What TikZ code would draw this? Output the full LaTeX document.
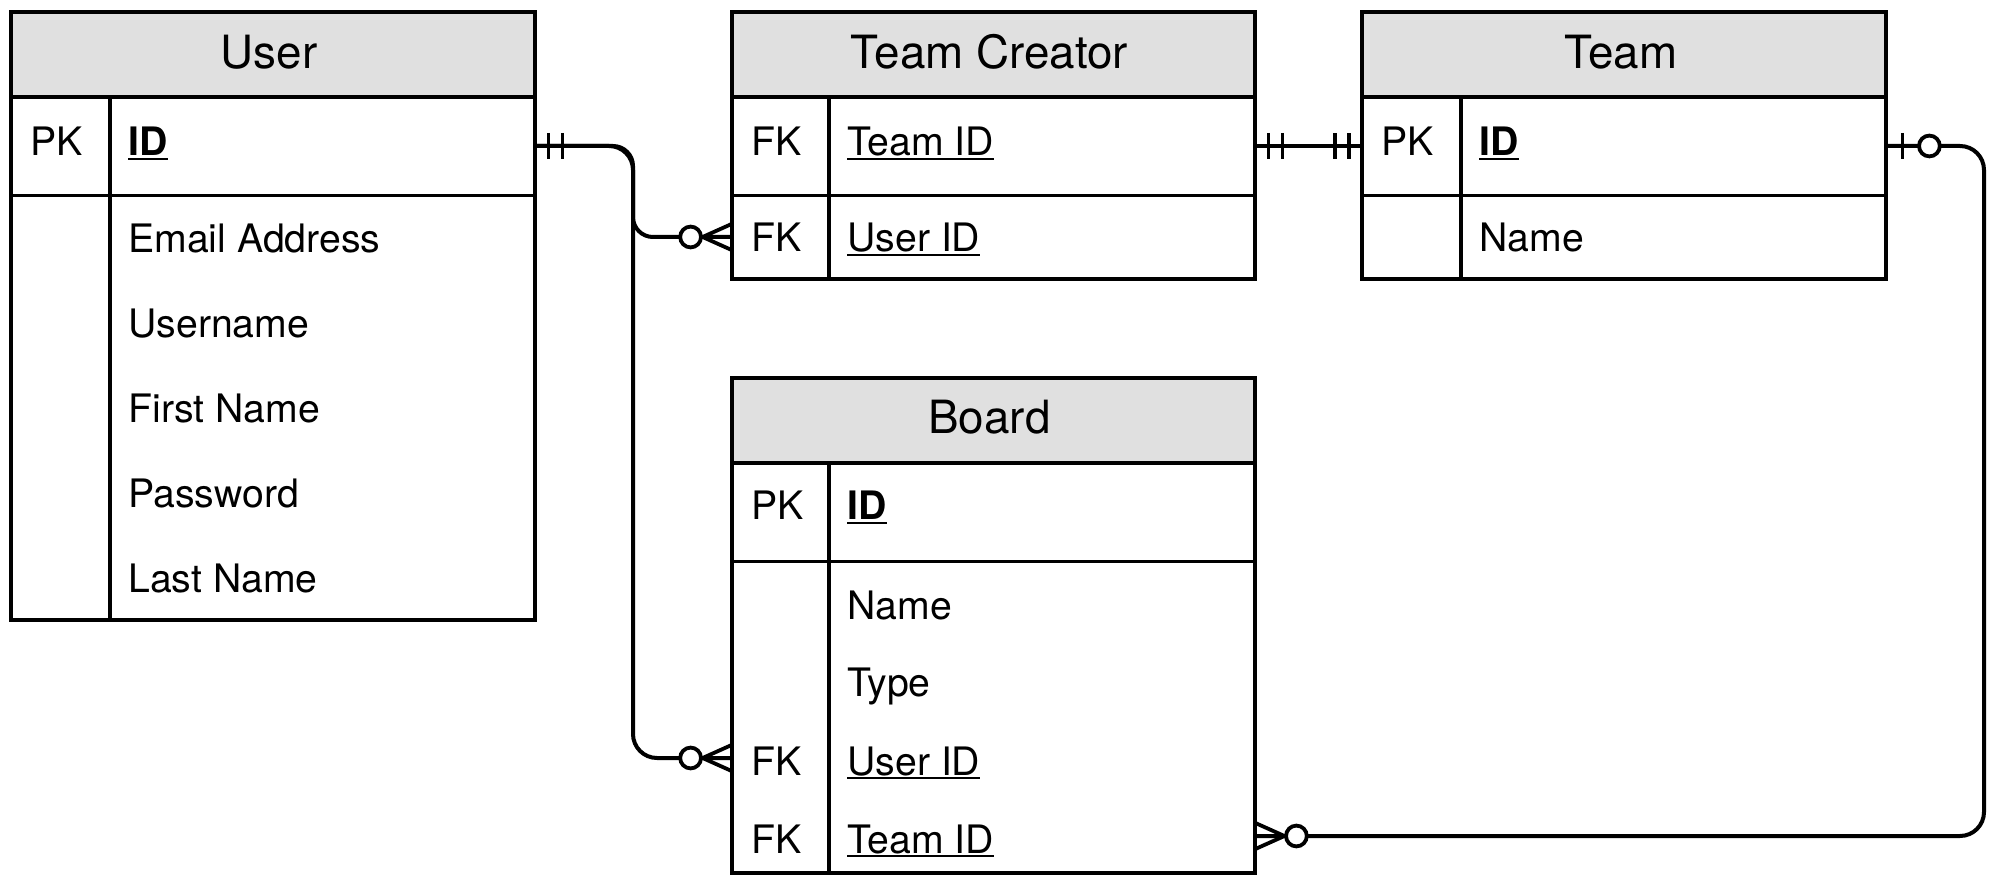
\documentclass[tikz,border=0pt]{standalone}
\usepackage{fontspec}
\setmainfont{TeX Gyre Heros}
\usetikzlibrary{fit}
\definecolor{hdrgray}{RGB}{224,224,224}
\newcommand\ulx[1]{\setbox0\hbox{#1}\rlap{\rule[-2pt]{\wd0}{0.95pt}}\box0}
\begin{document}
\begin{tikzpicture}[x=0.5pt,y=-0.5pt,
  box/.style={draw, line width=2pt, inner sep=0pt},
  head/.style={box, fill=hdrgray},
  row/.style={inner sep=0pt},
  sep/.style={line width=1.8pt},
  ttl/.style={anchor=base, inner sep=0pt, font=\fontsize{22.9pt}{27pt}\selectfont},
  fld/.style={anchor=base west, inner sep=0pt, font=\fontsize{19.6pt}{23pt}\selectfont},
  conn/.style={line width=2pt, rounded corners=12pt},
  mk/.style={line width=1.9pt},
  mandone/.pic={\draw[mk] (13,-13) -- (13,13) (27,-13) -- (27,13);},
  zeromany/.pic={\draw[mk] (0,-13) -- (29,0) -- (0,13); \draw[mk] (0,0) -- (29,0); \draw[mk,fill=white] (41,0) circle[radius=5.2pt];},
  zeroone/.pic={\draw[mk] (16,-13) -- (16,13); \draw[mk,fill=white] (43,0) circle[radius=5.2pt];}
]
\useasboundingbox (0,0) rectangle (1999,887);

% ---------- User ----------
\node[head, fit={(11,12)(535,97)}] (user-head) {};
\node[box, fit={(11,12)(535,620)}] (user) {};
\node[row, fit={(11,97)(535,195)}] (user-r1) {};
\draw[sep] (user-r1.south west) -- (user-r1.south east);
\draw[sep] (110,97) -- (110,620);
\node[ttl] (user-title) at (269,69) {User};
\node[fld] (user-pk) at (30,156) {PK};
\node[fld] (user-id) at (128,156) {\ulx{\textbf{ID}}};
\node[fld] (user-email) at (128,253) {Email Address};
\node[fld] (user-uname) at (128,338) {Username};
\node[fld] (user-first) at (128,423) {First Name};
\node[fld] (user-pass) at (128,508) {Password};
\node[fld] (user-last) at (128,593) {Last Name};

% ---------- Team Creator ----------
\node[head, fit={(732,12)(1255,97)}] (tc-head) {};
\node[box, fit={(732,12)(1255,279)}] (tc) {};
\node[row, fit={(732,97)(1255,195)}] (tc-r1) {};
\node[row, fit={(732,195)(1255,279)}] (tc-r2) {};
\draw[sep] (tc-r1.south west) -- (tc-r1.south east);
\draw[sep] (829,97) -- (829,279);
\node[ttl] (tc-title) at (989.5,69) {Team Creator};
\node[fld] (tc-fk1) at (751,156) {FK};
\node[fld] (tc-team) at (847,156) {\ulx{Team ID}};
\node[fld] (tc-fk2) at (751,252) {FK};
\node[fld] (tc-user) at (847,252) {\ulx{User ID}};

% ---------- Team ----------
\node[head, fit={(1362,12)(1886,97)}] (team-head) {};
\node[box, fit={(1362,12)(1886,279)}] (team) {};
\node[row, fit={(1362,97)(1886,195)}] (team-r1) {};
\draw[sep] (team-r1.south west) -- (team-r1.south east);
\draw[sep] (1461,97) -- (1461,279);
\node[ttl] (team-title) at (1621,69) {Team};
\node[fld] (team-pk) at (1381,156) {PK};
\node[fld] (team-id) at (1479,156) {\ulx{\textbf{ID}}};
\node[fld] (team-name) at (1479,252) {Name};

% ---------- Board ----------
\node[head, fit={(732,378)(1255,463)}] (board-head) {};
\node[box, fit={(732,378)(1255,873)}] (board) {};
\node[row, fit={(732,463)(1255,561)}] (board-r1) {};
\node[row, fit={(732,719)(1255,797)}] (board-r4) {};
\node[row, fit={(732,799)(1255,873)}] (board-r5) {};
\draw[sep] (board-r1.south west) -- (board-r1.south east);
\draw[sep] (829,463) -- (829,873);
\node[ttl] (board-title) at (989.5,434) {Board};
\node[fld] (board-pk) at (751,520) {PK};
\node[fld] (board-id) at (847,520) {\ulx{\textbf{ID}}};
\node[fld] (board-name) at (847,619) {Name};
\node[fld] (board-type) at (847,697) {Type};
\node[fld] (board-fk1) at (751,775) {FK};
\node[fld] (board-user) at (847,775) {\ulx{User ID}};
\node[fld] (board-fk2) at (751,853) {FK};
\node[fld] (board-team) at (847,853) {\ulx{Team ID}};

% ---------- connectors ----------
\coordinate (bendA) at (633,0);
\coordinate (bendB) at (1984,0);
\draw[conn, rounded corners=10pt] (user-r1.east) -- (bendA |- user-r1.east) -- (bendA |- tc-r2.west) -- (tc-r2.west);
\draw[conn] (user-r1.east) -- (bendA |- user-r1.east) -- (bendA |- board-r4.west) -- (board-r4.west);
\draw[conn] (tc-r1.east) -- (team-r1.west);
\draw[conn] (team-r1.east) -- (bendB |- team-r1.east) -- (bendB |- board-r5.east) -- (board-r5.east);

% ---------- cardinality marks ----------
\pic at (user-r1.east) {mandone};
\pic[rotate=180] at (tc-r2.west) {zeromany};
\pic[rotate=180] at (board-r4.west) {zeromany};
\pic at (tc-r1.east) {mandone};
\pic[rotate=180] at (team-r1.west) {mandone};
\pic at (team-r1.east) {zeroone};
\pic at (board-r5.east) {zeromany};
\end{tikzpicture}
\end{document}
